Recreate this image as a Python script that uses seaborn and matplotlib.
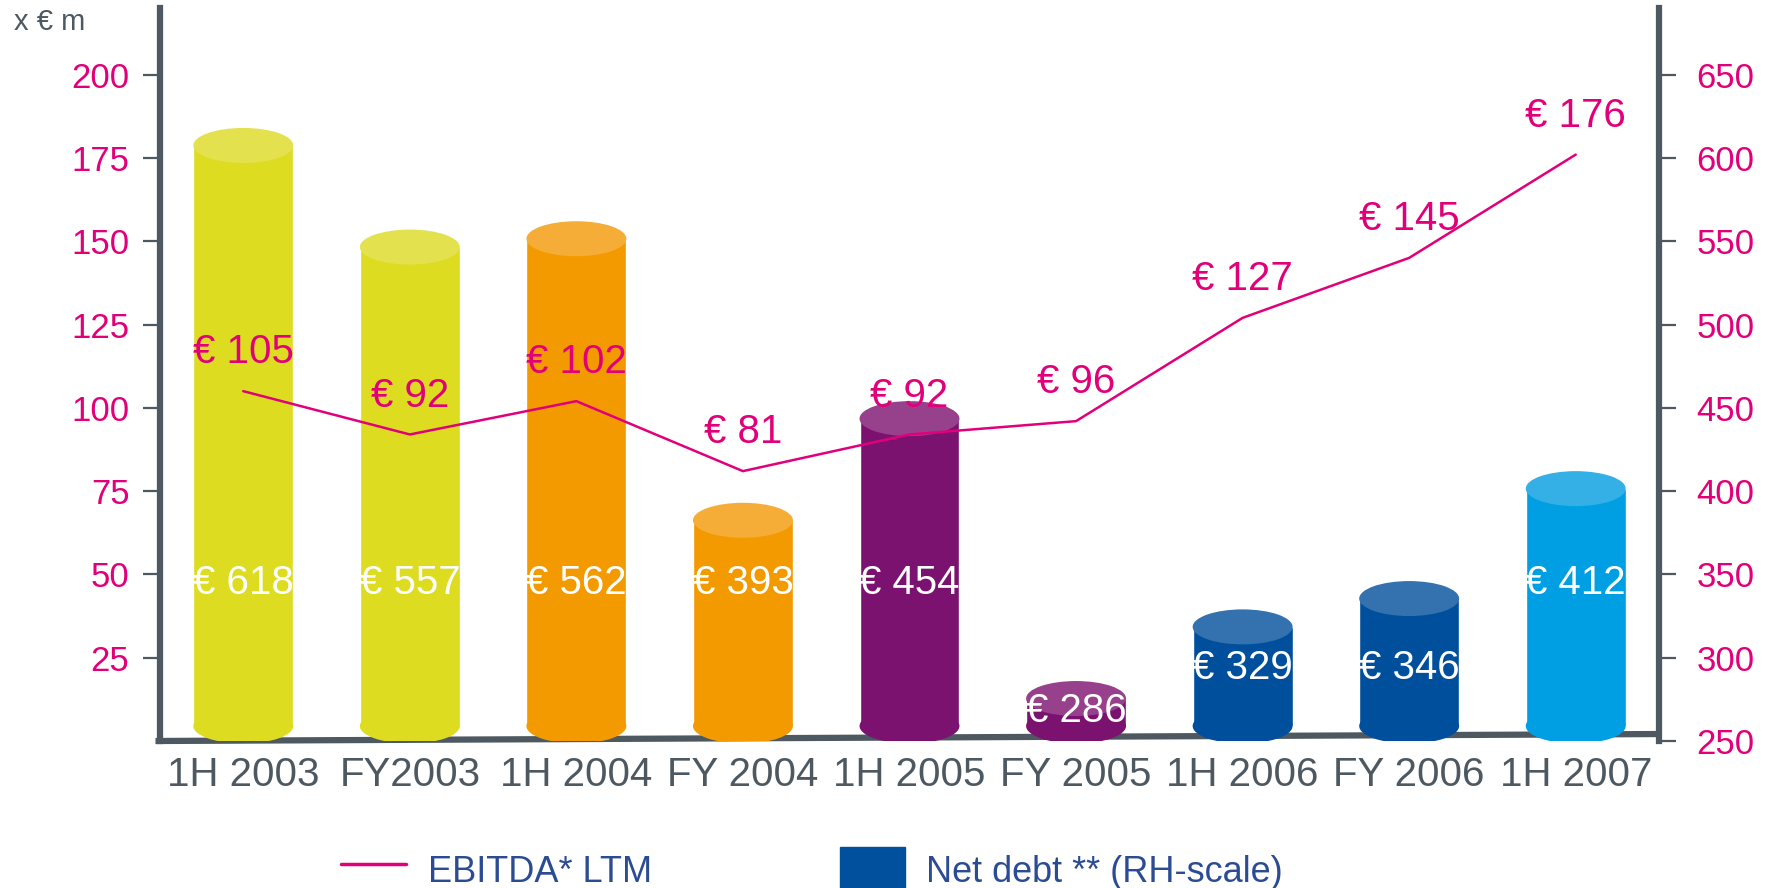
import matplotlib
matplotlib.use("Agg")
import matplotlib.pyplot as plt
import matplotlib.patches as mpatches
from matplotlib.lines import Line2D
import seaborn as sns
import pandas as pd
import numpy as np

periods = ["1H 2003", "FY2003", "1H 2004", "FY 2004", "1H 2005",
           "FY 2005", "1H 2006", "FY 2006", "1H 2007"]
ebitda = [105, 92, 102, 81, 92, 96, 127, 145, 176]
net_debt = [618, 557, 562, 393, 454, 286, 329, 346, 412]

body_colors = ["#DDDC21", "#DDDC21", "#F29A00", "#F29A00", "#7B1270",
               "#7B1270", "#004F9D", "#004F9D", "#009FE3"]
cap_colors = ["#E4E14F", "#E4E14F", "#F5AD37", "#F5AD37", "#97418C",
              "#97418C", "#3372AF", "#3372AF", "#35B0E7"]

left_ticks = [25, 50, 75, 100, 125, 150, 175, 200]
right_ticks = [250, 300, 350, 400, 450, 500, 550, 600, 650]

MAGENTA = "#E2007A"
GRAY = "#4D5861"
LEGEND_BLUE = "#2B4C93"

BASE = 259      # centre of the rounded bottom of each cylinder (RH scale)
CAP_H = 21      # height of the cylinder ellipses (RH scale units)

sns.set_theme(style="white")
plt.rcParams["font.family"] = ["Liberation Sans", "DejaVu Sans"]

df = pd.DataFrame({"period": periods, "ebitda": ebitda, "debt": net_debt})
df["body"] = df["debt"] - CAP_H / 2 - BASE
df["pos"] = np.arange(len(df))


def inner_label_y(v):
    # white value labels sit at a common height, lower for the short cylinders
    if v >= 380:
        return 345
    if v >= 300:
        return 294
    return (v + 250) / 2


fig = plt.figure(figsize=(17.69, 8.88), dpi=100)
ax = fig.add_axes([160 / 1769, 147 / 888, 1499 / 1769, 733 / 888])

# cylinders (net debt, RH scale)
sns.barplot(data=df, x="period", y="body", hue="period", palette=body_colors,
            saturation=1, width=0.6, bottom=BASE, legend=False, ax=ax, zorder=2)
for i, row in df.iterrows():
    ax.add_patch(mpatches.Ellipse((i, BASE), 0.6, CAP_H, color=body_colors[i],
                                  lw=0, zorder=2))
    ax.add_patch(mpatches.Ellipse((i, row["debt"] - CAP_H / 2), 0.6, CAP_H,
                                  color=cap_colors[i], lw=0, zorder=3))
    ax.text(i, inner_label_y(row["debt"]), f"€ {row['debt']}",
            color="white", fontsize=29, ha="center", va="center", zorder=4)

# slanted base line
ax.plot([-0.003, 1.0], [0.0, 0.0095], transform=ax.transAxes, color=GRAY,
        lw=4.5, solid_capstyle="butt", clip_on=False, zorder=1.5)

# EBITDA line (LH scale)
ax2 = ax.twinx()
sns.lineplot(data=df, x="pos", y="ebitda", color=MAGENTA, lw=1.8, ax=ax2)
for i, row in df.iterrows():
    ax2.annotate(f"€ {row['ebitda']}", (i, row["ebitda"]), xytext=(0, 28),
                 textcoords="offset points", ha="center", va="center",
                 color=MAGENTA, fontsize=29)

# RH axis (net debt)
ax.set_ylim(250, 690)
ax.set_xlim(-0.5, 8.5)
ax.set_xlabel("")
ax.set_ylabel("")
ax.yaxis.tick_right()
ax.set_yticks(right_ticks)
ax.set_yticklabels([str(t) for t in right_ticks])
ax.tick_params(axis="y", colors=GRAY, labelcolor=MAGENTA, labelsize=25,
               length=12, width=1.6, pad=15, right=True, left=False,
               labelright=True, labelleft=False)
ax.tick_params(axis="x", length=0, labelsize=29, labelcolor=GRAY, pad=11)
for s in ["top", "bottom"]:
    ax.spines[s].set_visible(False)
for s in ["left", "right"]:
    ax.spines[s].set_color(GRAY)
    ax.spines[s].set_linewidth(4.5)

# LH axis (EBITDA)
ax2.set_ylim(0, 220)
ax2.set_xlim(-0.5, 8.5)
ax2.set_xlabel("")
ax2.set_ylabel("")
ax2.yaxis.tick_left()
ax2.set_yticks(left_ticks)
ax2.set_yticklabels([str(t) for t in left_ticks])
ax2.tick_params(axis="y", colors=GRAY, labelcolor=MAGENTA, labelsize=25,
                length=12, width=1.6, pad=10, left=True, right=False,
                labelleft=True, labelright=False)
for s in ax2.spines.values():
    s.set_visible(False)

fig.text(14 / 1769, 1 - 22 / 888, "x € m", color=GRAY, fontsize=21,
         ha="left", va="center")

handles = [Line2D([], [], color=MAGENTA, lw=2.5),
           mpatches.Patch(color="#00509E")]
leg = fig.legend(handles, ["EBITDA* LTM", "Net debt ** (RH-scale)"],
                 loc="center left", bbox_to_anchor=(341 / 1769, 18 / 888),
                 ncol=2, frameon=False, fontsize=26, handlelength=1.8,
                 handleheight=1.6, handletextpad=0.6, columnspacing=5.2,
                 borderpad=0, borderaxespad=0)
for t in leg.get_texts():
    t.set_color(LEGEND_BLUE)

fig.savefig("out.png", dpi=100)
